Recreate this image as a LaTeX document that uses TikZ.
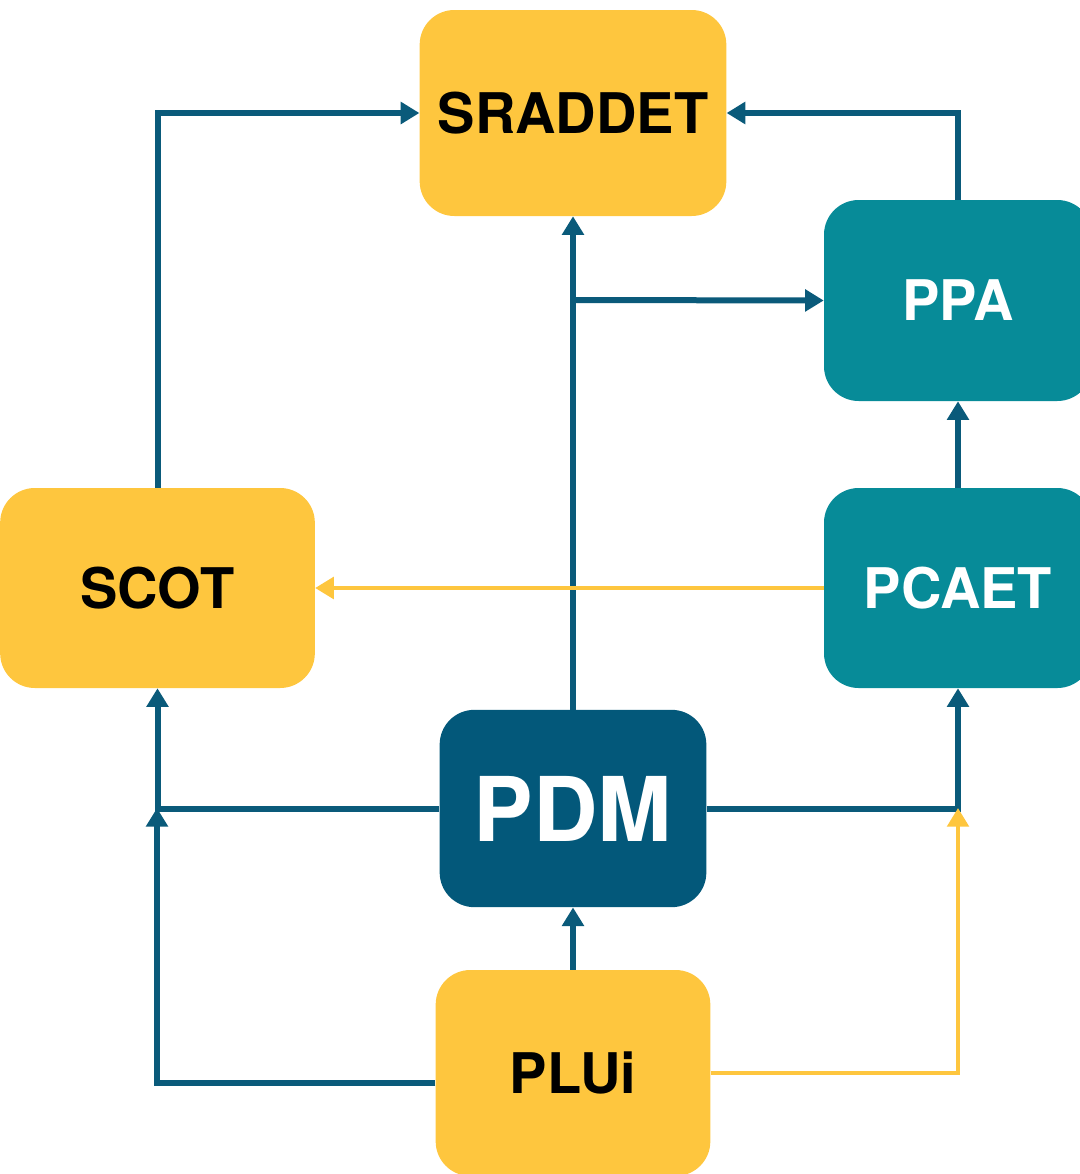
\documentclass[tikz,border=0pt]{standalone}
\usepackage{fontspec}
\setmainfont{TeX Gyre Heros}
\usetikzlibrary{arrows.meta}
\definecolor{planyellow}{HTML}{FEC63E}
\definecolor{planteal}{HTML}{078B98}
\definecolor{plandark}{HTML}{03587A}
\definecolor{planline}{HTML}{0A5A7A}
\begin{document}
\begin{tikzpicture}[x=0.75pt,y=-0.75pt,
    plan/.style={rounded corners=26pt,inner sep=0pt,font=\bfseries\fontsize{42}{50}\selectfont},
    yellowplan/.style={plan,fill=planyellow,text=black},
    tealplan/.style={plan,fill=planteal,text=white},
    link/.style={draw=planline,line width=4.5pt,-{Triangle[width=16pt,length=14pt]}},
    yellowlink/.style={link,draw=planyellow,line width=3.2pt}]
    \clip (0,0) rectangle (1080,1174);
    \useasboundingbox (0,0) rectangle (1080,1174);
    \node[yellowplan,minimum width=230pt,minimum height=154.5pt] (sraddet) at (573,113) {SRADDET};
    \node[tealplan,minimum width=201pt,minimum height=150.75pt] (ppa) at (958,300.5) {PPA};
    \node[tealplan,minimum width=201pt,minimum height=150pt] (pcaet) at (958,588) {PCAET};
    \node[yellowplan,minimum width=236pt,minimum height=150pt] (scot) at (157.5,588) {SCOT};
    \node[plan,fill=plandark,text=white,minimum width=200pt,minimum height=148pt,font=\bfseries\fontsize{67}{74}\selectfont] (pdm) at (573,808.5) {PDM};
    \node[yellowplan,minimum width=206pt,minimum height=154.5pt] (plui) at (573,1073) {PLUi};
    \coordinate (split) at (573,300);
    \coordinate (leftjoin) at (157,808);
    \coordinate (rightjoin) at (958,808);
    \draw[link] (scot.north) |- (sraddet.west);
    \draw[link] (ppa.north) |- (sraddet.east);
    \draw[link] (pdm.north) -- (sraddet.south);
    \draw[link] (split) -- (ppa.west);
    \draw[link] (pcaet) -- (ppa);
    \draw[yellowlink] (pcaet) -- (scot);
    \draw[link] (pdm.west) -| (scot.south);
    \draw[link] (pdm.east) -| (pcaet.south);
    \draw[link] ([yshift=-7.5pt]plui.west) -| (leftjoin);
    \draw[link] (plui) -- (pdm);
    \draw[yellowlink] (plui.east) -| (rightjoin);
\end{tikzpicture}
\end{document}
